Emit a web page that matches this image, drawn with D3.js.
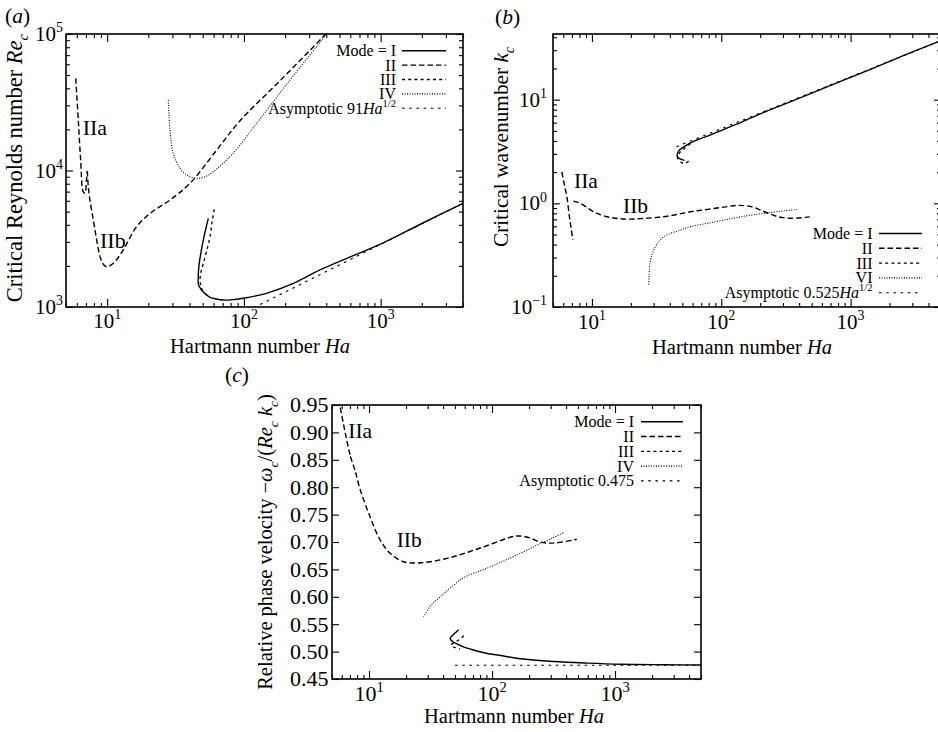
<!DOCTYPE html>
<html>
<head>
<meta charset="utf-8">
<script src="https://cdn.jsdelivr.net/npm/d3@7"></script>
<style>
  body { margin: 0; background: #fff; }
  svg { display: block; }
  text { font-family: "Liberation Serif", "Times New Roman", serif; fill: #000; }
</style>
</head>
<body>
<svg id="fig" width="938" height="732"></svg>
<script>
// ---------- data: [Hartmann number, value] ----------

// (a) critical Reynolds number Re_c
const reModeI = [[54.9,4460],[52.5,3700],[50.5,3100],[48.5,2500],[47.1,2090],[46.3,1620],[46.6,1450],[49.1,1330],[52,1250],[56.5,1178],[63,1145],[70.7,1125],[80,1128],[98.9,1158],[146,1260],[230,1490],[360,1870],[600,2330],[1045,2950],[2000,4090],[4000,5740]];
const reModeIIa = [[5.89,47300],[6.15,23400],[6.40,11900],[6.68,7000],[6.89,6810],[7.05,8500],[7.16,9900]];
const reModeIIb = [[7.16,9900],[7.28,7600],[7.48,6080],[7.92,4340],[8.38,3100],[8.87,2340],[9.4,2050],[9.93,1970],[11.1,2090],[13.1,2620],[16.4,3870],[20.6,4850],[28.8,6080],[40.3,8050],[63.2,14100],[93.5,23100],[183,45300],[391,98400],[400,101000]];
const reModeIII = [[60.7,5200],[58.5,4200],[56.5,3270],[53.5,2600],[50.5,2090],[48.5,1800],[47.8,1578],[48.5,1420],[50.5,1295],[54,1220]];
const reModeIV = [[28.0,32800],[28.8,19800],[30.4,13400],[34.1,10400],[38.1,9270],[45.1,8770],[52,9000],[59.7,9800],[83.6,13400],[124,22200],[217,46000],[400,100000],[405,103000]];
const reAsymCoef = 91;            // Re_c ~ 91 Ha^(1/2)
const reAsymHa = [118, 4000];

// (b) critical wavenumber k_c
const kModeI = [[52,2.6],[48,2.68],[45.6,2.85],[47,3.2],[52,3.55],[62.4,4.0],[80,4.5],[127,5.7],[200,7.3],[416,10.5],[800,14.7],[1365,19.2],[2500,26.3],[5000,37.1]];
const kModeIIa = [[5.85,2.01],[6.1,1.55],[6.4,1.16],[6.7,0.743],[6.9,0.58],[7.12,0.444]];
const kModeIIb = [[7.2,1.05],[7.8,1.02],[8.6,0.96],[10.3,0.83],[13.1,0.743],[17.6,0.706],[23.8,0.712],[33,0.735],[43.1,0.771],[58,0.83],[78.3,0.875],[105,0.92],[134,0.955],[170,0.93],[216,0.83],[274,0.743],[348,0.718],[483,0.74]];
const kModeIII = [[56,2.55],[51.3,2.42],[47.4,2.58],[45.8,2.78],[47.5,3.05],[52,3.4],[58,3.8]];
const kModeIV = [[27.5,0.165],[28.4,0.285],[31,0.383],[36.1,0.478],[48.6,0.554],[58,0.596],[78.3,0.642],[105,0.69],[142,0.743],[229,0.81],[393,0.875]];
const kAsymCoef = 0.525;          // k_c ~ 0.525 Ha^(1/2)
const kAsymHa = [45, 5000];

// (c) relative phase velocity -omega_c/(Re_c k_c)
const cModeI = [[53.5,0.540],[49,0.532],[45.7,0.524],[48,0.518],[52,0.514],[58,0.509],[70.6,0.503],[90,0.497],[124,0.492],[169,0.487],[316,0.482],[600,0.479],[1099,0.477],[2500,0.476],[5000,0.4755]];
const cModeIIa = [[5.84,0.945],[6.2,0.915],[6.6,0.885],[7.05,0.856]];
const cModeIIb = [[7.05,0.856],[7.7,0.83],[8.49,0.795],[10.2,0.746],[12.3,0.704],[14.9,0.679],[19.1,0.664],[26.1,0.662],[43,0.670],[80.2,0.689],[149,0.710],[169,0.711],[200,0.708],[246,0.700],[316,0.698],[489,0.705]];
const cModeIII = [[59,0.529],[55,0.523],[50,0.517],[46.5,0.512],[49,0.508],[55,0.505]];
const cModeIV = [[27.7,0.563],[32,0.585],[37.9,0.600],[48.6,0.621],[60,0.636],[90.7,0.652],[169,0.679],[246,0.697],[316,0.708],[380,0.717]];
const cAsymValue = 0.475;
const cAsymHa = [50, 5000];

// axis ticks and legend entries
const haDecades = [10, 100, 1000];
const reDecades = [1e3, 1e4, 1e5];
const kDecades = [0.1, 1, 10];
const cTicks = [0.45, 0.50, 0.55, 0.60, 0.65, 0.70, 0.75, 0.80, 0.85, 0.90, 0.95];
const cTickLabels = ["0.45", "0.50", "0.55", "0.60", "0.65", "0.70", "0.75", "0.80", "0.85", "0.90", "0.95"];
const legendModesA = ["Mode = I", "II", "III", "IV"];
const legendModesB = ["Mode = I", "II", "III", "VI"];
const legendModesC = ["Mode = I", "II", "III", "IV"];

// ---------- drawing ----------
const svg = d3.select("#fig");

const STYLES = {
  I:   { dash: null,      w: 1.4 },
  II:  { dash: "5.5,3",   w: 1.4 },
  III: { dash: "3,3.2",   w: 1.3 },
  IV:  { dash: "1,1.5",   w: 1.1 },
  AS:  { dash: "2.6,4.6", w: 1.1 }
};

function rich(sel, parts, size) {
  let shift = 0;
  for (const p of parts) {
    const ts = sel.append("tspan").text(p.t);
    const target = p.sup ? -0.42 * size : (p.sub ? 0.28 * size : 0);
    if (target !== shift) { ts.attr("dy", (target - shift).toFixed(2)); shift = target; }
    if (p.sup || p.sub) ts.attr("font-size", (size * 0.66).toFixed(1));
    if (p.i) ts.attr("font-style", "italic");
  }
  return sel;
}

const isDecade = d => Math.abs(Math.log10(d) - Math.round(Math.log10(d))) < 1e-9;
const powParts = d => {
  const e = Math.round(Math.log10(d));
  return [{ t: "10" }, { t: e < 0 ? "\u2212" + (-e) : String(e), sup: true }];
};

function drawPanel(c) {
  const g = svg.append("g");
  const x = d3.scaleLog().domain(c.xDomain).range([c.left, c.right]);
  const y = (c.yLog ? d3.scaleLog() : d3.scaleLinear()).domain(c.yDomain).range([c.bottom, c.top]);

  const clipId = "clip-" + c.name;
  svg.append("clipPath").attr("id", clipId).append("rect")
    .attr("x", c.left).attr("y", c.top)
    .attr("width", c.right - c.left).attr("height", c.bottom - c.top);

  // inward ticks on all four sides
  const xMinor = x.ticks().filter(d => !isDecade(d));
  const yMinor = c.yLog ? y.ticks().filter(d => !isDecade(d)) : [];
  const ticks = (axis, ty, tx, vals, len) => {
    if (!vals.length) return;
    g.append("g").attr("transform", `translate(${tx},${ty})`)
      .call(axis.tickValues(vals).tickSize(-len).tickSizeOuter(0).tickFormat(() => ""))
      .call(s => s.select(".domain").remove())
      .selectAll("line").attr("stroke-width", 1.1);
  };
  ticks(d3.axisBottom(x), c.bottom, 0, haDecades, 8);
  ticks(d3.axisBottom(x), c.bottom, 0, xMinor, 4);
  ticks(d3.axisTop(x), c.top, 0, haDecades, 8);
  ticks(d3.axisTop(x), c.top, 0, xMinor, 4);
  ticks(d3.axisLeft(y), 0, c.left, c.yMajor, 7);
  ticks(d3.axisLeft(y), 0, c.left, yMinor, 4);
  ticks(d3.axisRight(y), 0, c.right, c.yMajor, 7);
  ticks(d3.axisRight(y), 0, c.right, yMinor, 4);

  // tick labels
  haDecades.forEach(d => {
    rich(g.append("text").attr("x", x(d)).attr("y", c.xLabelBase)
      .attr("text-anchor", "middle").attr("font-size", c.tickSize), powParts(d), c.tickSize);
  });
  c.yMajor.forEach((d, i) => {
    const t = g.append("text").attr("x", c.yLabelRight).attr("y", y(d) + c.tickSize * 0.34)
      .attr("text-anchor", "end").attr("font-size", c.tickSize);
    if (c.yLog) rich(t, powParts(d), c.tickSize); else t.text(c.yTickLabels[i]);
  });

  // curves
  const line = d3.line().x(d => x(d[0])).y(d => y(d[1])).curve(d3.curveCatmullRom.alpha(0.5));
  const plot = g.append("g").attr("clip-path", `url(#${clipId})`);
  c.series.forEach(s => {
    const st = STYLES[s.style];
    plot.append("path").attr("d", line(s.data))
      .attr("fill", "none").attr("stroke", "#000")
      .attr("stroke-width", st.w)
      .attr("stroke-dasharray", st.dash)
      .attr("stroke-linejoin", "round");
  });

  // frame
  g.append("rect").attr("x", c.left).attr("y", c.top)
    .attr("width", c.right - c.left).attr("height", c.bottom - c.top)
    .attr("fill", "none").attr("stroke", "#000").attr("stroke-width", 1.6);

  // axis titles
  rich(g.append("text").attr("x", c.xTitle[0]).attr("y", c.xTitle[1])
    .attr("text-anchor", "middle").attr("font-size", c.xTitleSize),
    [{ t: "Hartmann number " }, { t: "Ha", i: true }], c.xTitleSize);
  rich(g.append("text")
    .attr("transform", `translate(${c.yTitle[0]},${c.yTitle[1]}) rotate(-90)`)
    .attr("text-anchor", "middle").attr("font-size", c.yTitleSize),
    c.yTitleParts, c.yTitleSize);

  // panel tag
  rich(g.append("text").attr("x", c.tag[0]).attr("y", c.tag[1]).attr("font-size", 21.5),
    [{ t: "(" }, { t: c.name, i: true }, { t: ")" }], 21.5);

  // branch annotations
  c.notes.forEach(n => {
    g.append("text").attr("x", n[1]).attr("y", n[2]).attr("font-size", c.noteSize).text(n[0]);
  });

  // legend
  const L = c.legend;
  const styles = ["I", "II", "III", "IV", "AS"];
  styles.forEach((sk, i) => {
    const yy = L.top + i * L.step;
    const parts = i < 4 ? [{ t: L.labels[i] }] : L.asymParts;
    rich(g.append("text").attr("x", L.textRight).attr("y", yy + 5.5)
      .attr("text-anchor", "end").attr("font-size", 16), parts, 16);
    const st = STYLES[sk];
    g.append("line").attr("x1", L.x1).attr("x2", L.x2).attr("y1", yy).attr("y2", yy)
      .attr("stroke", "#000").attr("stroke-width", st.w).attr("stroke-dasharray", st.dash);
  });
}

const sqrtAsym = (coef, has) => has.map(h => [h, coef * Math.sqrt(h)]);

drawPanel({
  name: "a", left: 66, right: 463, top: 34, bottom: 307,
  xDomain: [5, 4000], yLog: true, yDomain: [1e3, 1e5], yMajor: reDecades,
  tickSize: 21, xTitleSize: 20.5, yTitleSize: 22.5, noteSize: 22, xLabelBase: 328, yLabelRight: 63,
  xTitle: [260, 353], yTitle: [22, 168],
  yTitleParts: [{ t: "Critical Reynolds number " }, { t: "Re", i: true }, { t: "c", i: true, sub: true }],
  tag: [5, 23],
  notes: [["IIa", 82.7, 135], ["IIb", 100, 248]],
  series: [
    { data: sqrtAsym(reAsymCoef, reAsymHa), style: "AS" },
    { data: reModeIII, style: "III" },
    { data: reModeIV, style: "IV" },
    { data: reModeIIa, style: "II" },
    { data: reModeIIb, style: "II" },
    { data: reModeI, style: "I" }
  ],
  legend: { labels: legendModesA, top: 50.7, step: 14.4, textRight: 396, x1: 402, x2: 446,
    asymParts: [{ t: "Asymptotic " + reAsymCoef }, { t: "Ha", i: true }, { t: "1/2", sup: true }] }
});

drawPanel({
  name: "b", left: 553, right: 941, top: 34, bottom: 307,
  xDomain: [5, 5000], yLog: true, yDomain: [0.1, 43], yMajor: kDecades,
  tickSize: 21, xTitleSize: 20.5, yTitleSize: 21.3, noteSize: 21.5, xLabelBase: 329, yLabelRight: 547,
  xTitle: [742, 354], yTitle: [508, 147],
  yTitleParts: [{ t: "Critical wavenumber " }, { t: "k", i: true }, { t: "c", i: true, sub: true }],
  tag: [495, 24],
  notes: [["IIa", 574, 188], ["IIb", 623, 213]],
  series: [
    { data: sqrtAsym(kAsymCoef, kAsymHa), style: "AS" },
    { data: kModeIII, style: "III" },
    { data: kModeIV, style: "IV" },
    { data: kModeIIa, style: "II" },
    { data: kModeIIb, style: "II" },
    { data: kModeI, style: "I" }
  ],
  legend: { labels: legendModesB, top: 233.5, step: 14.8, textRight: 872.5, x1: 879, x2: 922,
    asymParts: [{ t: "Asymptotic " + kAsymCoef }, { t: "Ha", i: true }, { t: "1/2", sup: true }] }
});

drawPanel({
  name: "c", left: 332, right: 701, top: 405, bottom: 679,
  xDomain: [5, 5000], yLog: false, yDomain: [0.45, 0.95], yMajor: cTicks, yTickLabels: cTickLabels,
  tickSize: 22, xTitleSize: 20.5, yTitleSize: 20.5, noteSize: 21.5, xLabelBase: 701, yLabelRight: 328.5,
  xTitle: [514, 723], yTitle: [272, 542],
  yTitleParts: [{ t: "Relative phase velocity \u2212" }, { t: "\u03c9", i: true }, { t: "c", i: true, sub: true },
    { t: "/(" }, { t: "Re", i: true }, { t: "c", i: true, sub: true }, { t: " " }, { t: "k", i: true },
    { t: "c", i: true, sub: true }, { t: ")" }],
  tag: [225, 382],
  notes: [["IIa", 348.3, 438], ["IIb", 396.7, 547]],
  series: [
    { data: cAsymHa.map(h => [h, cAsymValue]), style: "AS" },
    { data: cModeIII, style: "III" },
    { data: cModeIV, style: "IV" },
    { data: cModeIIa, style: "II" },
    { data: cModeIIb, style: "II" },
    { data: cModeI, style: "I" }
  ],
  legend: { labels: legendModesC, top: 421.7, step: 14.8, textRight: 634, x1: 641, x2: 683,
    asymParts: [{ t: "Asymptotic " + cAsymValue }] }
});
</script>
</body>
</html>
